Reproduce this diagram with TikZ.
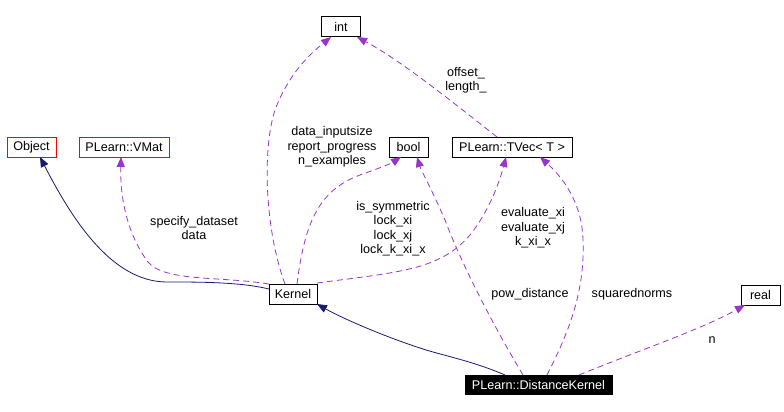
\documentclass[tikz,border=0pt]{standalone}
\usepackage{fontspec}
\setmainfont{Liberation Sans}
\usetikzlibrary{arrows.meta}
\definecolor{usecol}{HTML}{9A32CD}
\definecolor{inhcol}{HTML}{191970}
\tikzset{
  cls/.style={draw=black, fill=white, rectangle, inner sep=0pt, minimum height=20pt, line width=1pt, font=\fontsize{12.6}{14.5}\selectfont},
  redcls/.style={cls, draw=red},
  curcls/.style={cls, fill=black, text=white, draw=black, minimum height=19pt},
  lbl/.style={align=center, inner sep=0pt, font=\fontsize{12.6}{14.5}\selectfont},
  usage/.style={draw=usecol, line width=0.8pt, dash pattern=on 6pt off 4pt, -{Triangle[length=10pt,width=8pt,fill=usecol]}},
  inherit/.style={draw=inhcol, line width=0.8pt, -{Triangle[length=10pt,width=8pt,fill=inhcol]}}
}
\begin{document}
\begin{tikzpicture}[x=1pt,y=-1pt]
\useasboundingbox (0,0) rectangle (784,412);
% nodes
\node[cls, minimum width=39pt] (int) at (341,27) {int};
\node[redcls, minimum width=49pt] (object) at (31.5,147) {Object};
\node[redcls, minimum width=90pt] (vmat) at (124,147) {PLearn::VMat};
\node[cls, minimum width=39pt] (bool) at (408.5,147) {bool};
\node[cls, minimum width=120pt] (tvec) at (512,147) {PLearn::TVec< T >};
\node[cls, minimum width=48pt] (kernel) at (293,294) {Kernel};
\node[cls, minimum width=39pt] (real) at (760.5,295) {real};
\node[curcls, minimum width=147pt] (dk) at (538.5,385) {PLearn::DistanceKernel};
% coordinates for connector ends
\coordinate (kO) at (269,289);
\coordinate (kV) at (269,284);
\coordinate (kI) at (285,284);
\coordinate (kB) at (297,284);
\coordinate (kT) at (317,283);
\coordinate (oS) at (40,157);
\coordinate (vS) at (121,157);
\coordinate (iS1) at (331,37);
\coordinate (iS2) at (357,37);
\coordinate (bS1) at (401,157);
\coordinate (bS2) at (417,157);
\coordinate (tS1) at (506,157);
\coordinate (tS2) at (540,157);
\coordinate (tN) at (497,137);
\coordinate (kSE) at (317,304);
\coordinate (dN1) at (505,375);
\coordinate (dN2) at (523,375);
\coordinate (dN3) at (547,375);
\coordinate (dN4) at (579,375);
\coordinate (rW) at (745,305);
% inheritance
\draw[inherit] (kO) .. controls (240,282) and (200,282) .. (167,282)
  .. controls (110,282) and (70,215) .. (oS);
\draw[inherit] (dN1) .. controls (470,360) and (440,355) .. (420,348)
  .. controls (380,335) and (340,317) .. (kSE);
% usage
\draw[usage] (kV) .. controls (220,276) and (165,282) .. (148,262)
  .. controls (128,235) and (120,200) .. (vS);
\draw[usage] (kI) .. controls (265,230) and (262,150) .. (275,110)
  .. controls (290,70) and (315,50) .. (iS1);
\draw[usage] (kB) .. controls (305,220) and (320,190) .. (360,175)
  .. controls (380,168) and (392,163) .. (bS1);
\draw[usage] (kT) .. controls (400,272) and (440,270) .. (470,235)
  .. controls (490,210) and (500,180) .. (tS1);
\draw[usage] (tN) .. controls (450,100) and (400,60) .. (iS2);
\draw[usage] (dN2) .. controls (490,320) and (460,260) .. (445,220)
  .. controls (432,190) and (421,170) .. (bS2);
\draw[usage] (dN3) .. controls (570,330) and (585,290) .. (583,240)
  .. controls (582,200) and (560,175) .. (tS2);
\draw[usage] (dN4) .. controls (640,350) and (700,330) .. (rW);
% labels
\node[lbl] (l1) at (194,228) {specify\_dataset\\data};
\node[lbl] (l2) at (332,147) {data\_inputsize\\report\_progress\\n\_examples};
\node[lbl] (l3) at (466,80) {offset\_\\length\_};
\node[lbl] (l4) at (393,228.5) {is\_symmetric\\lock\_xi\\lock\_xj\\lock\_k\_xi\_x};
\node[lbl] (l5) at (533,228) {evaluate\_xi\\evaluate\_xj\\k\_xi\_x};
\node[lbl] (l6) at (530,294) {pow\_distance};
\node[lbl] (l7) at (632,294) {squarednorms};
\node[lbl] (l8) at (712,340) {n};
\end{tikzpicture}
\end{document}
